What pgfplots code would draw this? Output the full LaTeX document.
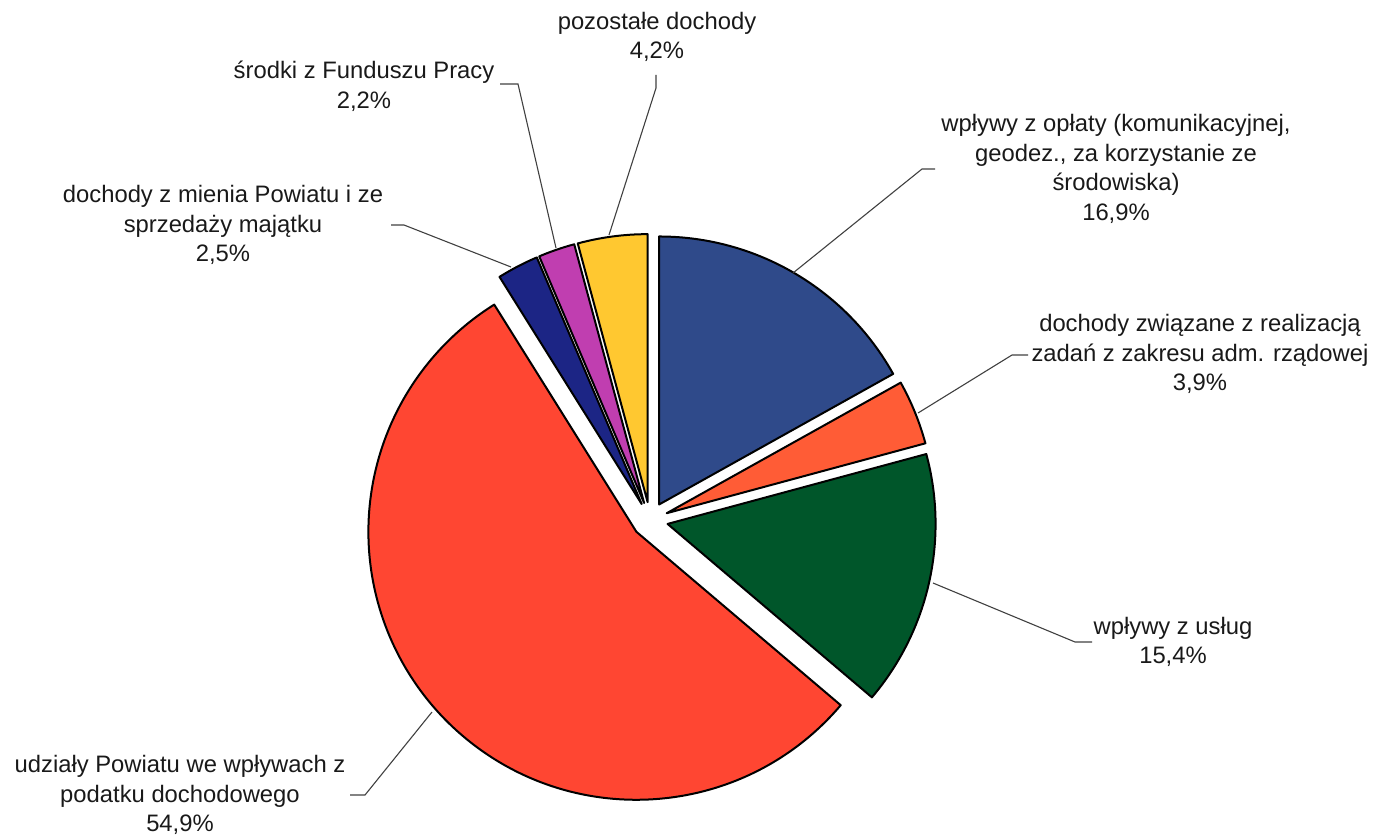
\documentclass[border=0pt]{standalone}
\usepackage{fontspec}
\setmainfont{Liberation Sans}
\usepackage{pgfplots}
\usepackage{pgfplotstable}
\pgfplotsset{compat=1.18}

\definecolor{sliceA}{RGB}{47,74,138}   % wpływy z opłaty
\definecolor{sliceB}{RGB}{255,92,54}   % dochody związane
\definecolor{sliceC}{RGB}{0,86,42}     % wpływy z usług
\definecolor{sliceD}{RGB}{255,70,50}   % udziały
\definecolor{sliceE}{RGB}{28,37,133}   % dochody z mienia
\definecolor{sliceF}{RGB}{192,62,176}  % Fundusz Pracy
\definecolor{sliceG}{RGB}{255,200,48}  % pozostałe

\tikzset{lbl/.style = {font = \fontsize{11.9}{14.8}\selectfont, align = center, text = black!90, inner sep = 0pt}}

% shares in percent, clockwise from 12 o'clock
\pgfplotstableread{
value color
16.9 sliceA
3.9  sliceB
15.4 sliceC
54.9 sliceD
2.5  sliceE
2.2  sliceF
4.2  sliceG
}\piedata

\begin{document}
\begin{tikzpicture}
\begin{axis}[
	x = 0.5pt, y = 0.5pt,
	xmin = 0, xmax = 1374,
	ymin = 0, ymax = 837,
	scale only axis,
	hide axis,
	clip = false,
]
\path (axis cs:0,0) rectangle (axis cs:1374,837);

\def\startang{90}
\pgfplotsforeachungrouped \i in {0,...,6}{%
	\pgfplotstablegetelem{\i}{value}\of\piedata
	\let\val\pgfplotsretval
	\pgfplotstablegetelem{\i}{color}\of\piedata
	\let\col\pgfplotsretval
	\pgfmathsetmacro\endang{\startang-3.6*\val}
	\pgfmathsetmacro\midang{(\startang+\endang)/2}
	\pgfmathsetmacro\tipx{650+18*cos(\midang)}
	\pgfmathsetmacro\tipy{317+18*sin(\midang)}
	\pgfmathsetmacro\rimx{\tipx+268*cos(\startang)}
	\pgfmathsetmacro\rimy{\tipy+268*sin(\startang)}
	\edef\slice{\noexpand\draw[line width = 1pt, line join = round, fill = \col]
		(axis cs:\tipx,\tipy) -- (axis cs:\rimx,\rimy)
		arc[start angle = \startang, end angle = \endang, radius = 134pt] -- cycle;}
	\slice
	\let\startang\endang
}

% leader lines
\begin{scope}[line width = 0.55pt, black!75]
\draw (axis cs:656,762) -- (axis cs:656,749) -- (axis cs:609,602);
\draw (axis cs:500,753) -- (axis cs:518,753) -- (axis cs:556,589);
\draw (axis cs:391,612) -- (axis cs:404,612) -- (axis cs:511,570);
\draw (axis cs:935,668) -- (axis cs:922,668) -- (axis cs:793,564);
\draw (axis cs:1028,482) -- (axis cs:1012,482) -- (axis cs:918,424);
\draw (axis cs:1092,195) -- (axis cs:1075,195) -- (axis cs:933,254);
\draw (axis cs:350,42) -- (axis cs:365,42) -- (axis cs:432,125);
\end{scope}

\node[lbl] at (axis cs:657,800) {pozostałe dochody\\4,2\%};
\node[lbl] at (axis cs:364,751) {środki z Funduszu Pracy\\2,2\%};
\node[lbl] at (axis cs:223,612) {dochody z mienia Powiatu i ze\\sprzedaży majątku\\2,5\%};
\node[lbl] at (axis cs:1116,668) {wpływy z opłaty (komunikacyjnej,\\geodez., za korzystanie ze\\środowiska)\\16,9\%};
\node[lbl] at (axis cs:1200,483) {dochody związane z realizacją\\zadań z zakresu adm. rządowej\\3,9\%};
\node[lbl] at (axis cs:1173,195) {wpływy z usług\\15,4\%};
\node[lbl] at (axis cs:180,42) {udziały Powiatu we wpływach z\\podatku dochodowego\\54,9\%};
\end{axis}
\end{tikzpicture}
\end{document}
